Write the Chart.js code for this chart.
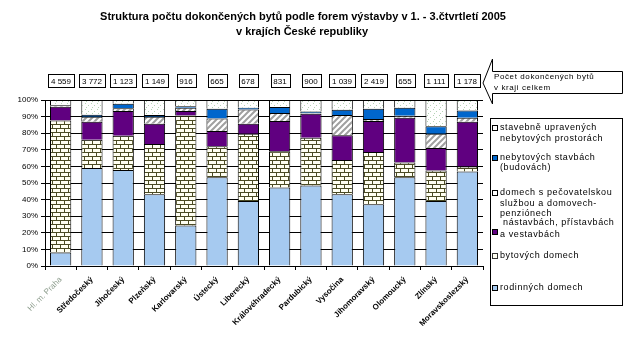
<!DOCTYPE html>
<html>
<head>
<meta charset="utf-8">
<script src="https://cdn.jsdelivr.net/npm/chart.js@4/dist/chart.umd.min.js"></script>
<style>
  body { margin: 0; background: #fff; }
  #wrap { width: 627px; height: 353px; }
</style>
</head>
<body>
<div id="wrap"><canvas id="chart" width="627" height="353"></canvas></div>
<script>
// Regions (kraje)
const regions = ["Hl. m. Praha", "Středočeský", "Jihočeský", "Plzeňský", "Karlovarský", "Ústecký",
  "Liberecký", "Královéhradecký", "Pardubický", "Vysočina", "Jihomoravský", "Olomoucký",
  "Zlínský", "Moravskoslezský"];

// Total completed dwellings per region (boxes above bars)
const totals = ["4 559", "3 772", "1 123", "1 149", "916", "665", "678", "831", "900", "1 039",
  "2 419", "655", "1 111", "1 178"];

// Shares in %, bottom of the stack first
const rodinnych   = [8.1, 59.0, 57.8, 43.2, 24.4, 53.5, 39.2, 47.3, 48.5, 43.2, 37.2, 53.5, 39.2, 57.0];
const bytovych    = [79.6, 17.0, 20.6, 30.3, 66.3, 18.6, 40.4, 21.8, 28.7, 20.6, 31.5, 8.9, 18.4, 3.0];
const nastavbach  = [8.3, 10.9, 14.9, 12.2, 2.6, 9.3, 6.1, 18.2, 14.5, 15.0, 18.6, 26.9, 13.5, 26.9];
const pecovatel   = [0.8, 3.0, 1.7, 4.2, 2.1, 7.5, 8.6, 4.8, 0.3, 12.1, 1.2, 1.2, 8.5, 2.4];
const nebytStavby = [0.0, 1.2, 2.8, 1.0, 0.8, 5.8, 1.1, 3.7, 1.0, 3.2, 6.2, 4.9, 4.6, 4.4];
const upravenych  = [3.2, 8.9, 2.2, 9.1, 3.8, 5.3, 4.6, 4.2, 7.0, 5.9, 5.3, 4.6, 15.8, 6.3];

const yTicks = [0, 10, 20, 30, 40, 50, 60, 70, 80, 90, 100];

// legend lines, top to bottom
const legendLines = [
  { text: "stavebně upravených", y: 128, swatch: 0 },
  { text: "nebytových prostorách", y: 138.5 },
  { text: "nebytových stavbách", y: 157.5, swatch: 1 },
  { text: "(budovách)", y: 168 },
  { text: "domech s pečovatelskou", y: 193, swatch: 2 },
  { text: "službou a domovech-", y: 203.5 },
  { text: "penziónech", y: 213.5 },
  { text: " nástavbách, přístavbách", y: 223 },
  { text: "a vestavbách", y: 235, swatchAt: 232, swatch: 3 },
  { text: "bytových domech", y: 256, swatch: 4 },
  { text: "rodinných domech", y: 288, swatch: 5 }
];

function makePattern(w, h, draw) {
  const c = document.createElement("canvas");
  c.width = w; c.height = h;
  const g = c.getContext("2d");
  draw(g);
  return g.createPattern(c, "repeat");
}

const brick = makePattern(8, 8, g => {
  g.fillStyle = "#fffff2"; g.fillRect(0, 0, 8, 8);
  g.fillStyle = "#4b4b24";
  g.fillRect(0, 0, 8, 1); g.fillRect(0, 4, 8, 1);
  g.fillRect(0, 1, 1, 3); g.fillRect(4, 5, 1, 3);
});

const hatch = makePattern(6, 6, g => {
  g.fillStyle = "#fff"; g.fillRect(0, 0, 6, 6);
  g.strokeStyle = "#a0a0a0"; g.lineWidth = 2;
  g.beginPath();
  g.moveTo(-1, 7); g.lineTo(7, -1);
  g.moveTo(-1, 1); g.lineTo(1, -1);
  g.moveTo(5, 7); g.lineTo(7, 5);
  g.stroke();
});

const dots = makePattern(6, 6, g => {
  g.fillStyle = "#fff"; g.fillRect(0, 0, 6, 6);
  g.fillStyle = "#b5d3b5";
  g.fillRect(1, 1, 1, 1); g.fillRect(4, 3, 1, 1); g.fillRect(2, 5, 1, 1);
});

const swatchFill = ["#ffffff", "#0066cc", "#ffffff", "#600080", "#fffff2", "#a6caf0"];

const decor = {
  id: "decor",
  afterDraw(chart) {
    const ctx = chart.ctx;
    const x = chart.scales.x;
    ctx.save();

    // title
    ctx.fillStyle = "#000";
    ctx.textAlign = "center";
    ctx.textBaseline = "alphabetic";
    ctx.font = "bold 11px 'Liberation Sans', Arial, sans-serif";
    ctx.fillText("Struktura počtu dokončených bytů podle forem výstavby v 1. - 3.čtvrtletí 2005", 303, 20);
    ctx.fillText("v krajích České republiky", 302, 35);

    // total boxes
    ctx.font = "8px 'Liberation Sans', Arial, sans-serif";
    ctx.textBaseline = "middle";
    ctx.lineWidth = 1;
    ctx.strokeStyle = "#000";
    totals.forEach((t, i) => {
      const cx = Math.round(x.getPixelForValue(i));
      const w = Math.ceil(ctx.measureText(t).width) + 5;
      const left = Math.round(cx - w / 2) + 0.5;
      ctx.strokeRect(left, 74.5, w, 13);
      ctx.fillText(t, cx, 81.5);
    });

    // callout arrow
    ctx.beginPath();
    ctx.moveTo(483, 83);
    ctx.lineTo(492.5, 59);
    ctx.lineTo(492.5, 71.5);
    ctx.lineTo(622.5, 71.5);
    ctx.lineTo(622.5, 93.5);
    ctx.lineTo(492.5, 93.5);
    ctx.lineTo(492.5, 104);
    ctx.closePath();
    ctx.fillStyle = "#fff";
    ctx.fill();
    ctx.stroke();
    ctx.fillStyle = "#000";
    ctx.textAlign = "left";
    ctx.textBaseline = "alphabetic";
    ctx.font = "8px 'Liberation Sans', Arial, sans-serif";
    ctx.letterSpacing = "0.6px";
    ctx.fillText("Počet dokončených bytů", 494, 79);
    ctx.fillText("v kraji celkem", 494, 90);

    // legend
    ctx.strokeRect(490.5, 118.5, 132, 187);
    ctx.font = "9px 'Liberation Sans', Arial, sans-serif";
    ctx.letterSpacing = "0.6px";
    ctx.textBaseline = "middle";
    legendLines.forEach(l => {
      ctx.fillStyle = "#000";
      ctx.fillText(l.text, 500, l.y);
      if (l.swatch !== undefined) {
        const sy = l.swatchAt !== undefined ? l.swatchAt : l.y;
        ctx.fillStyle = swatchFill[l.swatch];
        ctx.fillRect(492.5, Math.round(sy) - 2.5, 5, 5);
        ctx.strokeStyle = l.swatch === 4 ? "#333" : "#000";
        ctx.strokeRect(492.5, Math.round(sy) - 2.5, 5, 5);
      }
    });
    ctx.restore();
  }
};

const series = [
  { label: "rodinných domech", data: rodinnych, backgroundColor: "#a6caf0" },
  { label: "bytových domech", data: bytovych, backgroundColor: brick },
  { label: "nástavbách, přístavbách a vestavbách", data: nastavbach, backgroundColor: "#600080" },
  { label: "domech s pečovatelskou službou a domovech-penziónech", data: pecovatel, backgroundColor: hatch },
  { label: "nebytových stavbách (budovách)", data: nebytStavby, backgroundColor: "#0066cc" },
  { label: "stavebně upravených nebytových prostorách", data: upravenych, backgroundColor: dots }
];

new Chart(document.getElementById("chart"), {
  type: "bar",
  data: {
    labels: regions,
    datasets: series.map(s => ({
      ...s,
      borderColor: "#000",
      borderWidth: 1,
      barPercentage: 0.68,
      categoryPercentage: 1
    }))
  },
  options: {
    responsive: false,
    animation: false,
    layout: { padding: { top: 100, right: 144, left: 0, bottom: 0 } },
    plugins: {
      legend: { display: false },
      tooltip: { enabled: false },
      title: { display: false }
    },
    scales: {
      x: {
        stacked: true,
        afterFit: s => { s.height = 87; },
        grid: { offset: true, drawOnChartArea: false, color: "#000", tickLength: 4 },
        border: { color: "#000" },
        ticks: {
          autoSkip: false,
          maxRotation: 45,
          minRotation: 45,
          padding: 5,
          color: c => c.index === 0 ? "#8d9d8d" : "#000",
          font: c => ({ family: "'Liberation Sans', Arial, sans-serif", size: 8, weight: c.index === 0 ? "normal" : "bold" })
        }
      },
      y: {
        stacked: true,
        min: 0,
        max: 100,
        afterFit: s => { s.width = 45; },
        afterBuildTicks: s => { s.ticks = yTicks.map(v => ({ value: v })); },
        grid: { color: "#000", tickLength: 4 },
        border: { color: "#000" },
        ticks: {
          padding: 3,
          color: "#000",
          font: { family: "'Liberation Sans', Arial, sans-serif", size: 8 },
          callback: v => v + "%"
        }
      }
    }
  },
  plugins: [decor]
});
</script>
</body>
</html>
